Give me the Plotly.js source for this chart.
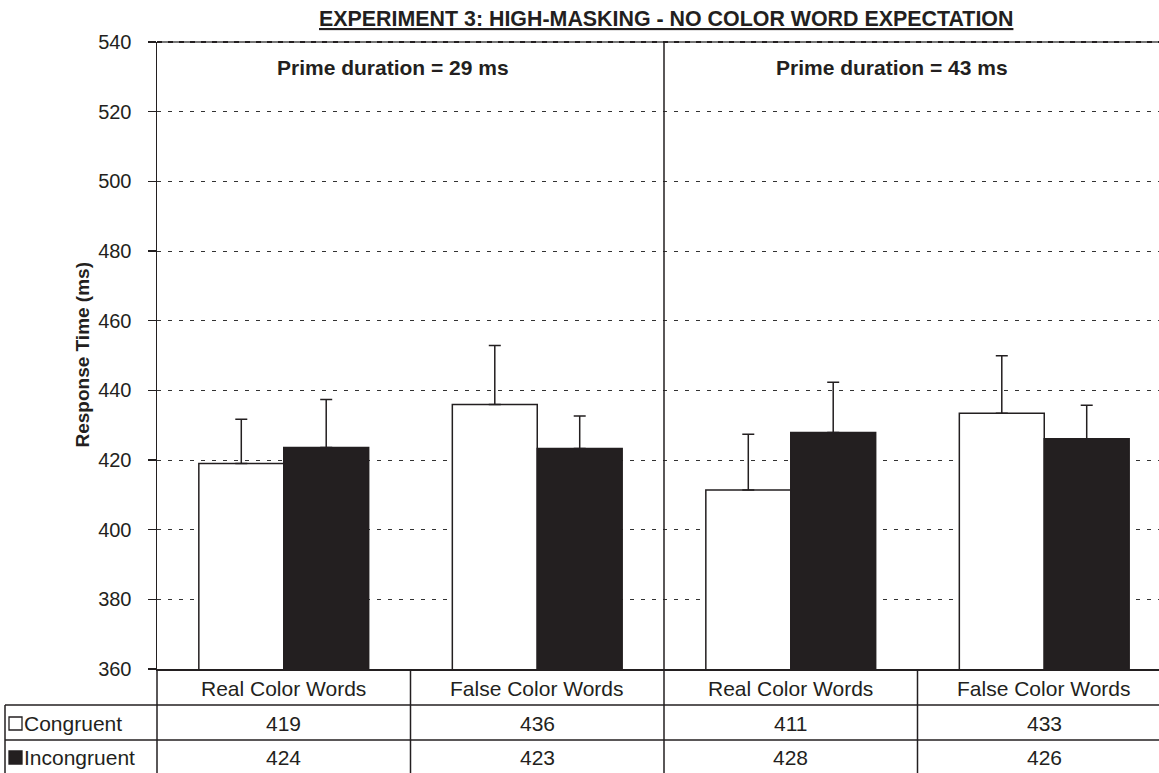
<!DOCTYPE html>
<html>
<head>
<meta charset="utf-8">
<script src="https://cdn.plot.ly/plotly-3.0.1.min.js"></script>
<style>
  html, body { margin: 0; padding: 0; background: #fff; overflow: hidden; }
  #chart { width: 1159px; height: 773px; }
</style>
</head>
<body>
<div id="chart"></div>
<script>
// ---- data ----
const categories = ['Real Color Words', 'False Color Words', 'Real Color Words', 'False Color Words'];
const seriesNames = ['Congruent', 'Incongruent'];
const congruent = [419.0, 435.9, 411.4, 433.4];
const incongruent = [423.6, 423.3, 427.9, 426.1];
const congruentErr = [12.7, 17.0, 16.0, 16.5];
const incongruentErr = [13.8, 9.3, 14.4, 9.6];
const primeLabels = ['Prime duration = 29 ms', 'Prime duration = 43 ms'];
const primeCenters = [0.43, 2.40];
const chartTitle = 'EXPERIMENT 3: HIGH-MASKING - NO COLOR WORD EXPECTATION';
const yTitle = 'Response Time (ms)';
const yRange = [360, 540];
const yStep = 20;

// ---- layout helpers ----
const INK = '#231f20';
const FONT = '"Liberation Sans", Arial, Helvetica, sans-serif';
const W = 1159, H = 773;
const M = { l: 157, r: 0, t: 42, b: 104 };
const plotW = W - M.l - M.r, plotH = H - M.t - M.b;
const catPx = 253.5;
const XMIN = -0.5, XMAX = XMIN + plotW / catPx;
const xs = categories.map((_, i) => i);
const px2paperY = py => (H - M.b - py) / plotH;
const px2paperX = px => (px - M.l) / plotW;
const data2paperX = x => (x - XMIN) / (XMAX - XMIN);

// table row geometry (paper y)
const rowHeaderY = px2paperY(688);
const rowCongY = px2paperY(723);
const rowIncY = px2paperY(757);
const line1Y = px2paperY(705);
const line2Y = px2paperY(740);
const bottomY = px2paperY(H + 2);
const tableLeftX = px2paperX(5);
const TXT = 21;

const traces = [
  {
    type: 'bar', name: seriesNames[0], x: xs, y: congruent,
    marker: { color: '#ffffff', line: { color: INK, width: 1.5 } },
    error_y: { type: 'data', symmetric: false, array: congruentErr, arrayminus: congruentErr.map(() => 0),
               color: INK, thickness: 1.5, width: 6 },
    hoverinfo: 'y'
  },
  {
    type: 'bar', name: seriesNames[1], x: xs, y: incongruent,
    marker: { color: INK, line: { color: INK, width: 1.5 } },
    error_y: { type: 'data', symmetric: false, array: incongruentErr, arrayminus: incongruentErr.map(() => 0),
               color: INK, thickness: 1.5, width: 6 },
    hoverinfo: 'y'
  }
];

const annotations = [];
const shapes = [];

// title
annotations.push({
  text: chartTitle, xref: 'x', yref: 'paper', x: 1.508, y: px2paperY(19),
  xanchor: 'center', yanchor: 'middle', showarrow: false,
  font: { family: FONT, size: 21.4, color: INK, weight: 'bold', lineposition: 'under' }
});
// y title
annotations.push({
  text: '<b>' + yTitle + '</b>', xref: 'paper', yref: 'paper', x: px2paperX(82), y: 0.5,
  xanchor: 'center', yanchor: 'middle', textangle: -90, showarrow: false,
  font: { family: FONT, size: 19, color: INK }
});
// prime duration labels
primeLabels.forEach((t, i) => annotations.push({
  text: '<b>' + t + '</b>', xref: 'x', yref: 'paper', x: primeCenters[i], y: px2paperY(68),
  xanchor: 'center', yanchor: 'middle', showarrow: false,
  font: { family: FONT, size: TXT, color: INK }
}));
// table: category header + values
categories.forEach((c, i) => {
  annotations.push({ text: c, xref: 'x', yref: 'paper', x: i, y: rowHeaderY, showarrow: false,
    xanchor: 'center', yanchor: 'middle', font: { family: FONT, size: TXT, color: INK } });
  annotations.push({ text: String(Math.round(congruent[i])), xref: 'x', yref: 'paper', x: i, y: rowCongY, showarrow: false,
    xanchor: 'center', yanchor: 'middle', font: { family: FONT, size: TXT, color: INK } });
  annotations.push({ text: String(Math.round(incongruent[i])), xref: 'x', yref: 'paper', x: i, y: rowIncY, showarrow: false,
    xanchor: 'center', yanchor: 'middle', font: { family: FONT, size: TXT, color: INK } });
});
// row labels with legend swatches
const rowYs = [rowCongY, rowIncY];
const swatchFill = ['#ffffff', INK];
seriesNames.forEach((n, k) => {
  annotations.push({ text: n, xref: 'paper', yref: 'paper', x: px2paperX(22), y: rowYs[k], showarrow: false,
    xanchor: 'left', yanchor: 'middle', font: { family: FONT, size: TXT, color: INK } });
  const cy = H - M.b - rowYs[k] * plotH;
  shapes.push({ type: 'rect', xref: 'paper', yref: 'paper',
    x0: px2paperX(9), x1: px2paperX(22), y0: px2paperY(cy + 7), y1: px2paperY(cy - 6),
    fillcolor: swatchFill[k], line: { color: INK, width: 1.3 } });
});

// table lines
const lineStyle = { color: INK, width: 1.5 };
shapes.push({ type: 'line', xref: 'paper', yref: 'paper', x0: tableLeftX, x1: 1.01, y0: line1Y, y1: line1Y, line: lineStyle });
shapes.push({ type: 'line', xref: 'paper', yref: 'paper', x0: tableLeftX, x1: 1.01, y0: line2Y, y1: line2Y, line: lineStyle });
shapes.push({ type: 'line', xref: 'paper', yref: 'paper', x0: tableLeftX, x1: tableLeftX, y0: line1Y, y1: bottomY, line: lineStyle });
shapes.push({ type: 'line', xref: 'paper', yref: 'paper', x0: 0, x1: 0, y0: 0, y1: bottomY, line: lineStyle });
for (let i = 0; i < categories.length - 1; i++) {
  const xp = data2paperX(i + 0.5);
  const top = (i === 1) ? 1 : 0;
  shapes.push({ type: 'line', xref: 'paper', yref: 'paper', x0: xp, x1: xp, y0: top, y1: bottomY, line: lineStyle, layer: 'above' });
}
// heavier top boundary at 540
shapes.push({ type: 'line', xref: 'paper', yref: 'paper', x0: 0, x1: 1, y0: 1, y1: 1,
  line: { color: '#777', width: 2 }, layer: 'below' });
shapes.push({ type: 'line', xref: 'paper', yref: 'paper', x0: 0, x1: 1, y0: 1, y1: 1,
  line: { color: INK, width: 2, dash: '5px,6px' }, layer: 'below' });

const layout = {
  width: W, height: H,
  margin: M,
  paper_bgcolor: '#ffffff', plot_bgcolor: '#ffffff',
  showlegend: false,
  barmode: 'group', bargap: 0.33, bargroupgap: 0,
  font: { family: FONT, color: INK },
  xaxis: {
    range: [XMIN, XMAX], showticklabels: false, ticks: '', showgrid: false, zeroline: false,
    showline: true, linecolor: INK, linewidth: 1.5, fixedrange: true
  },
  yaxis: {
    range: yRange, dtick: yStep, tick0: yRange[0], ticks: 'outside', ticklen: 8, tickwidth: 1.5, tickcolor: INK,
    showline: true, linecolor: INK, linewidth: 1.5, zeroline: false,
    showgrid: true, gridcolor: '#333', gridwidth: 1, griddash: '4px,7px',
    tickfont: { family: FONT, size: 20, color: INK }, ticklabelstandoff: 12, fixedrange: true
  },
  annotations: annotations,
  shapes: shapes
};

Plotly.newPlot('chart', traces, layout, { displayModeBar: false, staticPlot: true });
</script>
</body>
</html>
